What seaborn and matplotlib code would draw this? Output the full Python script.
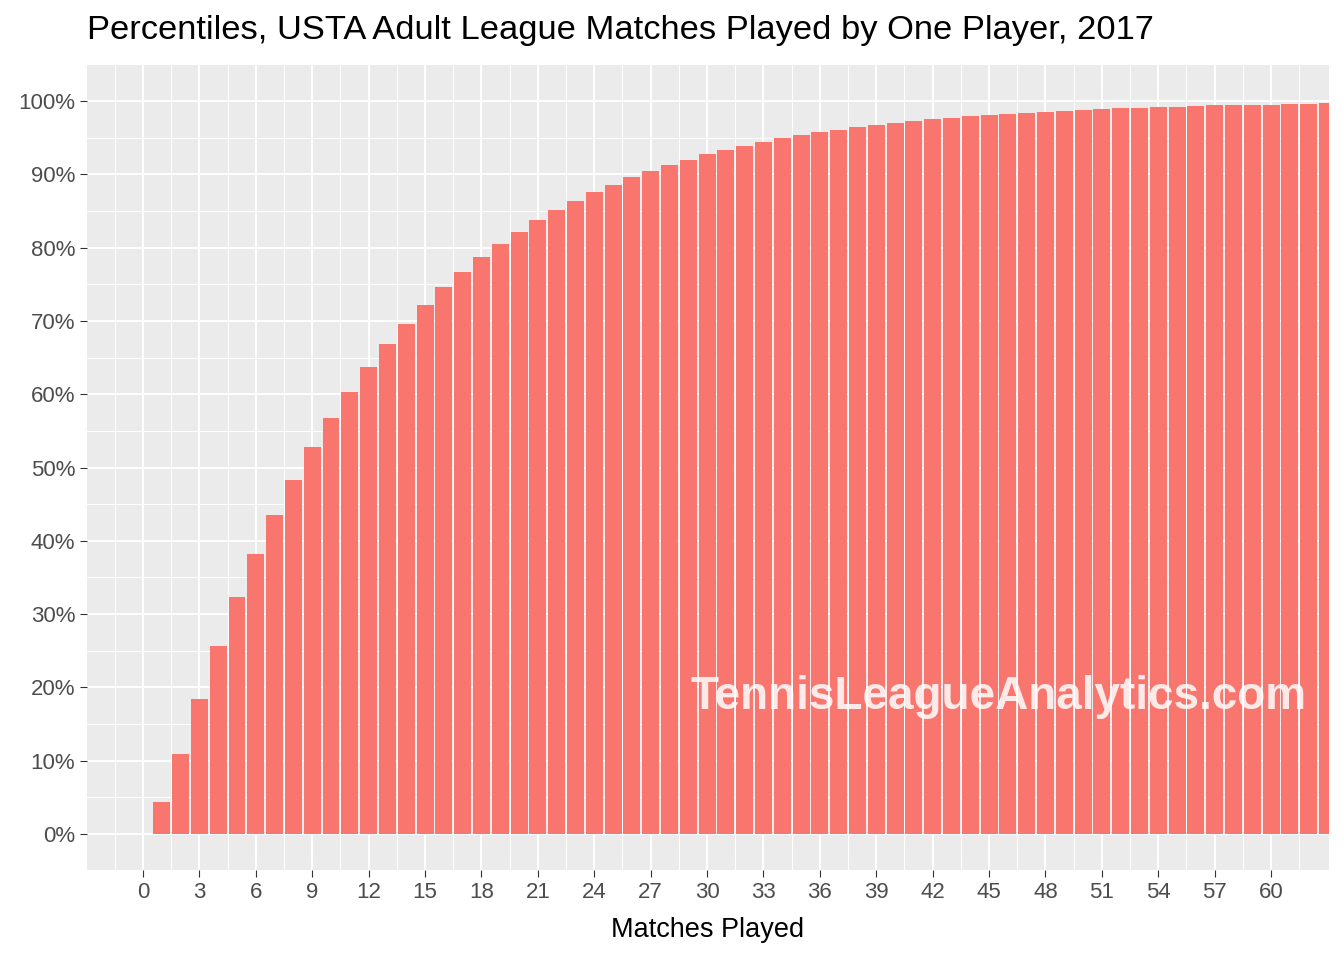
import matplotlib
matplotlib.use("Agg")
import matplotlib.pyplot as plt
import seaborn as sns
import pandas as pd
import numpy as np

matches = list(range(1, 64))
percentile = [4.4, 10.9, 18.4, 25.7, 32.3, 38.2, 43.5, 48.3, 52.8, 56.8, 60.3, 63.7, 66.8, 69.6, 72.2,
              74.6, 76.7, 78.7, 80.5, 82.1, 83.7, 85.1, 86.4, 87.6, 88.6, 89.6, 90.5, 91.3, 92.0, 92.7,
              93.3, 93.9, 94.4, 94.9, 95.3, 95.7, 96.1, 96.4, 96.7, 97.0, 97.3, 97.5, 97.7, 97.9, 98.1,
              98.2, 98.4, 98.5, 98.6, 98.8, 98.9, 99.0, 99.1, 99.2, 99.2, 99.3, 99.4, 99.4, 99.5, 99.5,
              99.6, 99.6, 99.7]
df = pd.DataFrame({"m": matches, "p": percentile})

plt.rcParams["font.family"] = "Liberation Sans"
fig = plt.figure(figsize=(13.44, 9.6), dpi=100)
ax = fig.add_axes([87/1344, 1-870/960, (1329-87)/1344, (870-65)/960])
ax.set_facecolor("#EBEBEB")
ax.set_axisbelow(True)
sns.barplot(data=df, x="m", y="p", native_scale=True, width=0.9, color="#F8766D",
            saturation=1, edgecolor="none", linewidth=0, ax=ax, zorder=3)
ax.set_xlim(-2.98, 63.08)
ax.set_ylim(-4.9, 104.9)
ax.set_xticks(np.arange(0, 61, 3))
ax.set_xticklabels([str(v) for v in range(0, 61, 3)])
ax.set_xticks(np.arange(-1.5, 63, 3), minor=True)
ax.set_yticks(np.arange(0, 101, 10))
ax.set_yticks(np.arange(5, 101, 10), minor=True)
ax.set_yticklabels([f"{v}%" for v in range(0, 101, 10)])
ax.grid(which="major", color="white", linewidth=1.4)
ax.grid(which="minor", color="white", linewidth=0.7)
for s in ax.spines.values():
    s.set_visible(False)
ax.tick_params(which="major", length=5, color="#333333", labelsize=16, labelcolor="#4D4D4D")
ax.tick_params(which="minor", length=0)
ax.set_ylabel("")
ax.set_xlabel("Matches Played", fontsize=19.5, color="black", labelpad=10)
fig.text(87/1344, 1-30/960, "Percentiles, USTA Adult League Matches Played by One Player, 2017",
         fontsize=24.8, va="center", ha="left")
ax.text(0.982, 0.215, "TennisLeagueAnalytics.com", transform=ax.transAxes, ha="right", va="center",
        fontsize=33, fontweight="bold", color="white", alpha=0.85, zorder=5)
fig.savefig("out.png", dpi=100)
